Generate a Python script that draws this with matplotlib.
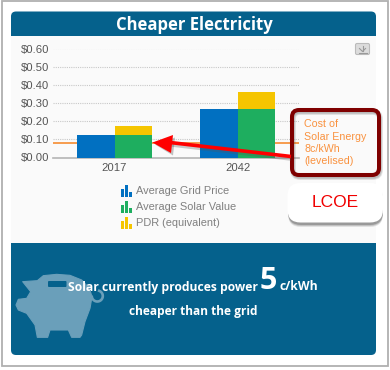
import matplotlib
matplotlib.use("Agg")
import matplotlib.pyplot as plt
from matplotlib.patches import FancyBboxPatch, Rectangle, Polygon
import numpy as np

# datos del grafico
years = ["2017", "2042"]
grid_price = [0.124, 0.267]
solar_value = [0.124, 0.267]
pdr = [0.048, 0.095]
lcoe = 0.08
yticks = [0.0, 0.1, 0.2, 0.3, 0.4, 0.5, 0.6]
legend_names = ["Average Grid Price", "Average Solar Value", "PDR (equivalent)"]
callout_lines = ["Cost of", "Solar Energy", "8c/kWh", "(levelised)"]

BLUE = "#0170c1"
GREEN = "#1eae5f"
YELLOW = "#f5c500"
ORANGE = "#f58220"
NAVY = "#05618c"
DARKRED = "#7f0000"
TXT = "#555555"
PIG = "#6a9fba"

fig = plt.figure(figsize=(3.9, 3.7), dpi=100, facecolor="white")

# capa de fondo en pixeles
bg = fig.add_axes([0, 0, 1, 1], zorder=0)
bg.set_xlim(0, 390)
bg.set_ylim(370, 0)
bg.axis("off")


def rbox(axis, x0, y0, x1, y1, r, **kw):
    p = FancyBboxPatch((x0, y0), x1 - x0, y1 - y0,
                       boxstyle=f"round,pad=0,rounding_size={r}", **kw)
    axis.add_patch(p)
    return p


bg.add_patch(Rectangle((2, 0.5), 386, 365.5, fc="white", ec="#b0b0b0", lw=1.3))
rbox(bg, 11, 11.5, 376, 50, 5, fc=NAVY, ec="none", zorder=1)
rbox(bg, 11, 235, 376, 355, 5, fc=NAVY, ec="none", zorder=1)
bg.add_patch(Rectangle((11, 36), 365, 207, fc="#fafafa", ec="none", zorder=1.5))
bg.text(194.5, 24.5, "Cheaper Electricity", color="white", fontsize=12, fontweight="bold",
        family="Open Sans", ha="center", va="center", zorder=3)

# grafico de barras
ax = fig.add_axes([53 / 390, 1 - 157.5 / 370, 246 / 390, 109 / 370], zorder=2)
ax.patch.set_alpha(0)
x = np.arange(len(years))
w = 0.305
ax.bar(x - w / 2, grid_price, w, color=BLUE, zorder=3)
ax.bar(x + w / 2, solar_value, w, color=GREEN, zorder=3)
ax.bar(x + w / 2, pdr, w, bottom=solar_value, color=YELLOW, zorder=3)
ax.axhline(lcoe, color=ORANGE, lw=1.1, zorder=2)
ax.set_xlim(-0.5, 1.5)
ax.set_ylim(0, 0.6)
ax.set_xticks(x, years)
ax.set_yticks(yticks, [f"${v:.2f}" for v in yticks])
ax.grid(axis="y", color="#c8c8c8", ls=(0, (1, 1)), lw=0.8, zorder=1)
ax.set_axisbelow(True)
for s in ["top", "left", "right"]:
    ax.spines[s].set_visible(False)
ax.spines["bottom"].set_color("#b5b5b5")
ax.spines["bottom"].set_linewidth(1.2)
ax.tick_params(length=0, labelsize=8.1, labelcolor=TXT, pad=2.5)
for t in ax.get_xticklabels() + ax.get_yticklabels():
    t.set_family("Liberation Sans")
ax.tick_params(axis="x", pad=4)

# capa superior: leyenda, cuadros, flecha, cerdito
top = fig.add_axes([0, 0, 1, 1], zorder=3)
top.set_xlim(0, 390)
top.set_ylim(370, 0)
top.axis("off")
top.patch.set_alpha(0)


def mini_bars(x0, yc, col):
    for dx, h in zip([0, 4.3, 8.6], [8, 11.5, 5]):
        top.add_patch(Rectangle((x0 + dx, yc + 5.5 - h), 3, h, fc=col, ec="none"))


for name, col, yc in zip(legend_names, [BLUE, GREEN, YELLOW], [191, 207, 223]):
    mini_bars(120.5, yc, col)
    top.text(136, yc, name, fontsize=7.9, color="#808080", family="Liberation Sans",
             va="center", ha="left")

# boton de descarga
rbox(top, 355.5, 43.5, 369.5, 54.5, 1.5, fc="#dcdcdc", ec="#bbbbbb", lw=0.8)
top.plot([362.5, 362.5], [45.5, 51], color="#999999", lw=0.8)
top.plot([359.5, 362.5, 365.5], [48.5, 51.5, 48.5], color="#999999", lw=0.8)
top.plot([358.5, 366.5], [53, 53], color="#999999", lw=0.8)

# cuadro naranja sin relleno, con sombra suave
for i, a in enumerate([0.12, 0.12, 0.15]):
    rbox(top, 293, 112, 380, 177, 7, fc="none", ec="#444444", lw=4.2 - i, alpha=a, zorder=1)
rbox(top, 292, 110, 379, 175, 7, fc="none", ec=DARKRED, lw=2.9, zorder=2)
for line, yc in zip(callout_lines, [124, 137, 149, 161]):
    top.text(304.5, yc, line, color="#f9923f", fontsize=7.7, family="Liberation Sans",
             va="center", ha="left", zorder=3)

# boton LCOE
for d, a in [(4.5, 0.12), (3.5, 0.18), (2.5, 0.28)]:
    rbox(top, 288, 183 + d, 383, 222.5 + d, 13, fc="#333333", ec="none", alpha=a, zorder=1)
rbox(top, 287.5, 183, 383, 222.5, 13, fc="white", ec="none", zorder=2)
top.text(335, 202.5, "LCOE", color="#f00000", fontsize=12.5, family="Liberation Sans",
         ha="center", va="center", zorder=3)

# flecha roja con sombra
top.plot([172, 291], [145, 159], color="#555555", lw=2.6, alpha=0.3, zorder=4,
         solid_capstyle="butt")
top.add_patch(Polygon([(155, 144.5), (175, 137.5), (173, 155.5)], fc="#555555", ec="none",
                      alpha=0.35, zorder=4))
top.plot([170, 291], [142.5, 156.5], color="#ff0000", lw=2.6, zorder=5, solid_capstyle="butt")
top.add_patch(Polygon([(152.5, 142.5), (173, 135), (171, 153)], fc="#ff0000", ec="none", zorder=5))

# cerdito
pig_x = np.array([68, 112, 130, 170, 210, 245, 268, 276, 270, 255, 245, 240, 215, 205, 150,
                  143, 112, 105, 80, 55, 48, 55, 80, 92]) / 3
pig_y = 260 + np.array([65, 62, 47, 43, 46, 60, 85, 110, 145, 185, 225, 232, 232, 210, 210,
                        232, 232, 195, 160, 150, 135, 118, 115, 95]) / 3
top.add_patch(Polygon(np.column_stack([pig_x, pig_y]), fc=PIG, ec=PIG, lw=0.8,
                      joinstyle="round", zorder=3))
ang = np.radians(np.arange(-70, 175, 5))
top.plot(97.3 + 5.5 * np.cos(ang), 296 + 5.5 * np.sin(ang), color=PIG, lw=1.9, zorder=3)
rbox(top, 48, 281, 66.5, 287, 1, fc=NAVY, ec="none", zorder=3.5)

# textos del panel inferior
top.text(67.5, 287, "Solar currently produces power", color="white", fontsize=8.7,
         fontweight="bold", family="Open Sans", ha="left", va="center", zorder=6)
top.text(268, 281, "5", color="white", fontsize=22, fontweight="bold", family="Open Sans",
         ha="center", va="center", zorder=6)
top.text(280, 287, "c/kWh", color="white", fontsize=8.7, fontweight="bold", family="Open Sans",
         ha="left", va="center", zorder=6)
top.text(193.5, 312, "cheaper than the grid", color="white", fontsize=8.6, fontweight="bold",
         family="Open Sans", ha="center", va="center", zorder=6)

plt.savefig("out.png", dpi=100)
